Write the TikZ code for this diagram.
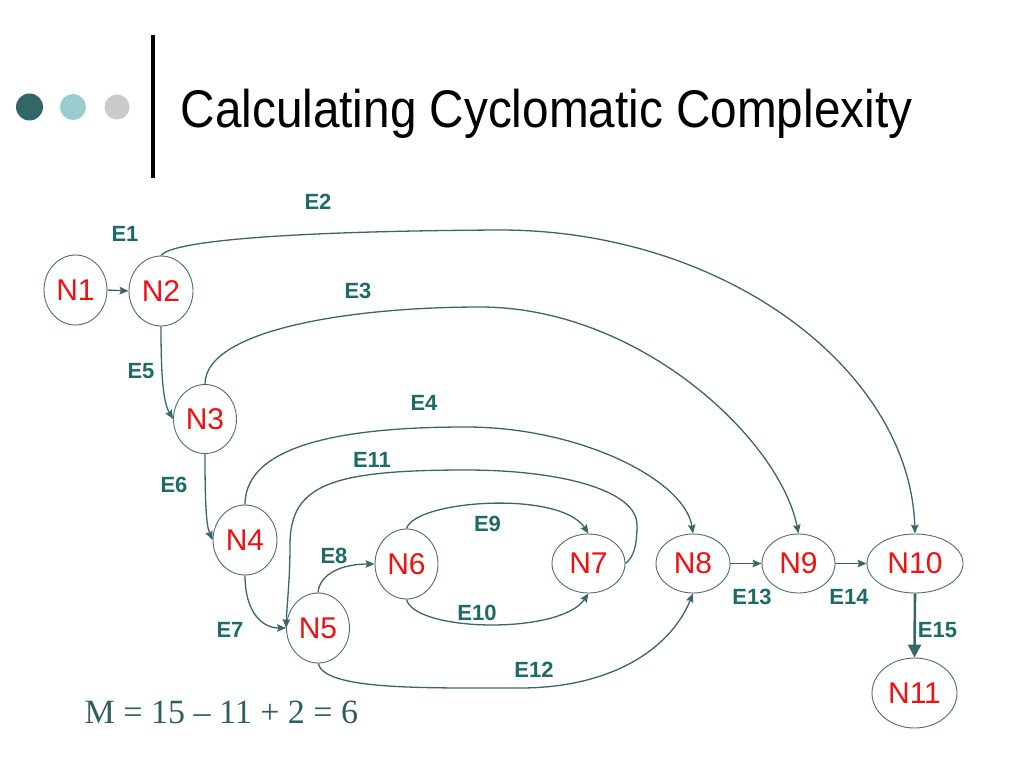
\documentclass[tikz,border=0pt]{standalone}
\usepackage{fontspec}
\setmainfont{Liberation Sans}
\newfontfamily\titlefont[FakeStretch=0.9]{Liberation Sans}
\newfontfamily\formfont{Liberation Serif}
\usetikzlibrary{shapes.geometric,arrows.meta}
\definecolor{edgec}{HTML}{3B6666}
\definecolor{labc}{HTML}{1D6B66}
\definecolor{nodec}{HTML}{EE1111}
\definecolor{borderc}{HTML}{506E6E}
\definecolor{dotA}{HTML}{336666}
\definecolor{dotB}{HTML}{99CCCF}
\definecolor{dotC}{HTML}{CACACA}
\definecolor{formc}{HTML}{2F5F5F}
\begin{document}
\begin{tikzpicture}[x=1pt,y=-1pt,
  nd/.style={ellipse, draw=borderc, line width=0.9pt, inner sep=0pt, text=nodec, font=\fontsize{30}{30}\selectfont},
  elab/.style={text=labc, font=\fontsize{22}{22}\selectfont\bfseries, inner sep=0pt},
  edge/.style={draw=edgec, line width=1.3pt, -{Stealth[length=9pt,width=7.5pt,inset=1.5pt]}},
  bigedge/.style={draw=edgec, line width=2.6pt, -{Triangle[length=13pt,width=13pt]}},
  dot/.style={circle, inner sep=0pt, draw=none}
]
\useasboundingbox (0,0) rectangle (1024,768);
\fill[white] (0,0) rectangle (1024,768);

% header
\node[dot, fill=dotA, minimum size=27pt] (d1) at (29.5,107) {};
\node[dot, fill=dotB, minimum size=26pt] (d2) at (73,107) {};
\node[dot, fill=dotC, minimum size=25pt] (d3) at (117,107) {};
\fill[black] (151,35) rectangle (155.3,178);
\node[anchor=base west, inner sep=0pt] (title) at (180.5,127) {\titlefont\fontsize{53}{60}\selectfont Calculating Cyclomatic Complexity};

% nodes
\node[nd, minimum width=63pt, minimum height=70pt] (n1) at (75.5,290) {N1};
\node[nd, minimum width=64pt, minimum height=70pt] (n2) at (161,291) {N2};
\node[nd, minimum width=63pt, minimum height=69pt] (n3) at (205,419) {N3};
\node[nd, minimum width=64pt, minimum height=70pt] (n4) at (245,540) {N4};
\node[nd, minimum width=63pt, minimum height=70pt] (n5) at (318,628) {N5};
\node[nd, minimum width=63pt, minimum height=70pt] (n6) at (406.5,564) {N6};
\node[nd, minimum width=73pt, minimum height=59pt] (n7) at (588.5,563.5) {N7};
\node[nd, minimum width=74pt, minimum height=59pt] (n8) at (693,563.5) {N8};
\node[nd, minimum width=73pt, minimum height=59pt] (n9) at (798.5,563.5) {N9};
\node[nd, minimum width=96pt, minimum height=59pt] (n10) at (915,563.5) {N10};
\node[nd, minimum width=85pt, minimum height=70pt] (n11) at (914.5,693) {N11};

% edges
\draw[edge] (n1.east) -- (n2.west);
\draw[edge] (n2.north) .. controls (172,240) and (300,231) .. (500,230) .. controls (725,230) and (910,370) .. (n10.north);
\draw[edge] (n3.north) .. controls (205,330) and (350,307) .. (480,307) .. controls (640,307) and (780,440) .. (n9.north);
\draw[edge] (n4.north) .. controls (245,440) and (360,427) .. (466,427) .. controls (580,427) and (685,480) .. (n8.north);
\draw[edge] (n2.south) .. controls (161,375) and (163,402) .. (n3.west);
\draw[edge] (n3.south) .. controls (205,500) and (206,525) .. (n4.west);
\draw[edge] (n4.south) .. controls (245,612) and (262,628) .. (n5.west);
\draw[edge] (n5.north) .. controls (320,572) and (345,564) .. (n6.west);
\draw[edge] (n6.north) .. controls (415,500) and (560,490) .. (n7.north);
\draw[edge] (n6.south) .. controls (415,632) and (560,635) .. (n7.south);
\draw[edge] (n7.east) .. controls (634,557) and (637,545) .. (637,525) .. controls (637,490) and (560,470) .. (466,470) .. controls (330,470) and (290,485) .. (290,545) .. controls (290,580) and (287,603) .. (n5.west);
\draw[edge] (n5.south) .. controls (325,690) and (420,688) .. (520,688) .. controls (610,688) and (670,650) .. (n8.south);
\draw[edge] (n8.east) -- (n9.west);
\draw[edge] (n9.east) -- (n10.west);
\draw[bigedge] (n10.south) -- (n11.north);

% edge labels
\node[elab] (e1) at (125,234) {E1};
\node[elab] (e2) at (318,202) {E2};
\node[elab] (e3) at (358,291) {E3};
\node[elab] (e4) at (424,403) {E4};
\node[elab] (e5) at (141,371) {E5};
\node[elab] (e6) at (174,484.5) {E6};
\node[elab] (e7) at (230,630) {E7};
\node[elab] (e8) at (334,556) {E8};
\node[elab] (e9) at (487.5,524) {E9};
\node[elab] (e10) at (477,613) {E10};
\node[elab] (e11) at (372,460) {E11};
\node[elab] (e12) at (534,670) {E12};
\node[elab] (e13) at (752,597) {E13};
\node[elab] (e14) at (849,597) {E14};
\node[elab] (e15) at (937.5,630) {E15};

% formula
\node[anchor=base west, inner sep=0pt, text=formc] (formula) at (84.5,723) {\formfont\fontsize{34}{40}\selectfont M = 15 – 11 + 2 = 6};
\end{tikzpicture}
\end{document}
